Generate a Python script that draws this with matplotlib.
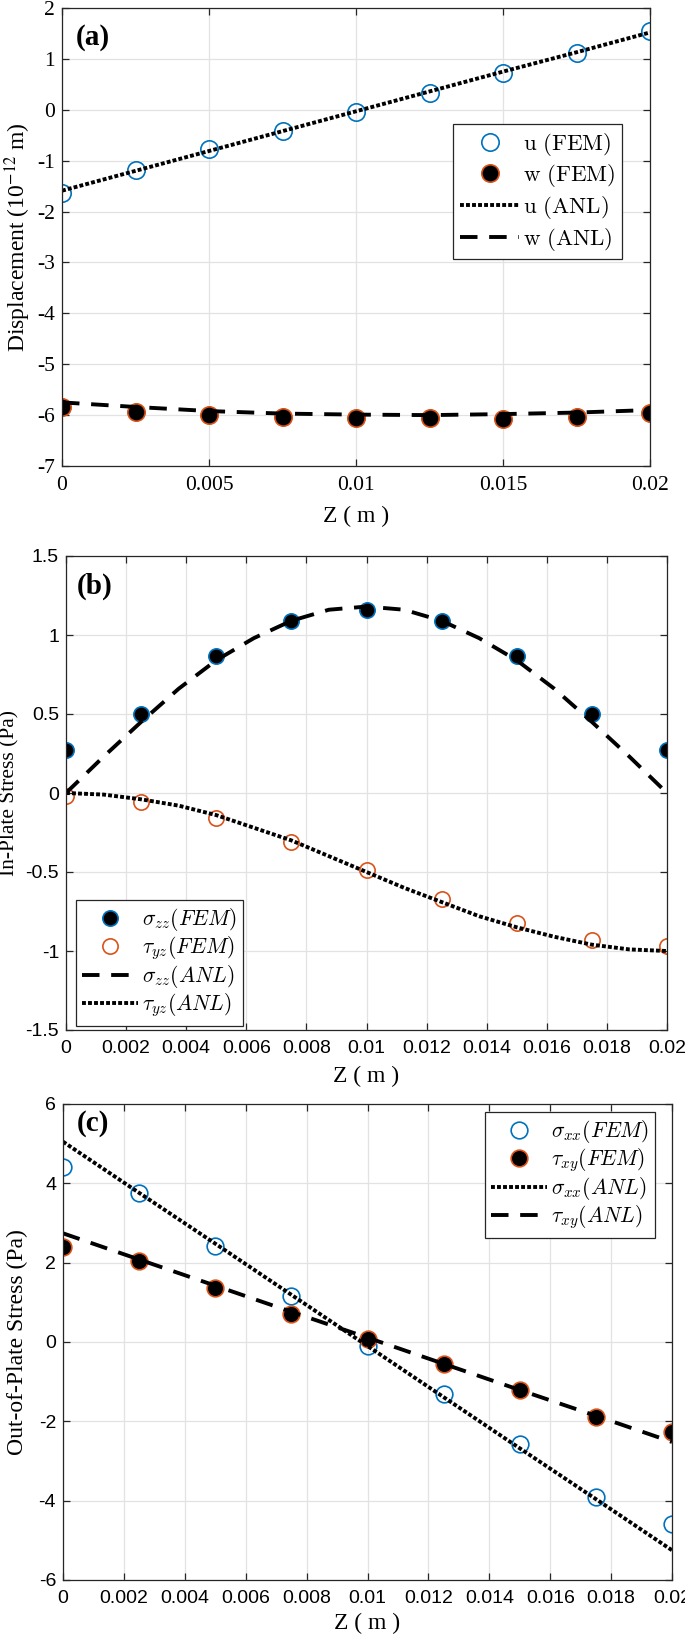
"""Three stacked panels: displacement, in-plate stress and out-of-plate stress
through the plate thickness, FEM markers against analytical curves."""

import matplotlib
import matplotlib.pyplot as plt
from matplotlib.ticker import FuncFormatter, MultipleLocator

matplotlib.use("Agg")

plt.rcParams["axes.unicode_minus"] = False
plt.rcParams["mathtext.fontset"] = "cm"

BLUE = "#0072BD"
ORANGE = "#D95319"
EDGE = "#262626"
GRID = "#e2e2e2"
SERIF = "Liberation Serif"
SANS = "Liberation Sans"

DOTTED = (0, (1, 0.55))
DASHED = (0, (4.5, 3))

# ---- data ------------------------------------------------------------------
z_fem = [0, 0.0025, 0.005, 0.0075, 0.01, 0.0125, 0.015, 0.0175, 0.02]

# (a) displacement, 1e-12 m
u_fem = [-1.63, -1.18, -0.78, -0.41, -0.05, 0.33, 0.72, 1.11, 1.55]
w_fem = [-5.84, -5.93, -6.00, -6.04, -6.06, -6.06, -6.07, -6.03, -5.96]
u_anl = [-1.59, -1.20, -0.81, -0.42, -0.03, 0.36, 0.75, 1.13, 1.52]
w_anl = [-5.75, -5.84, -5.92, -5.97, -5.99, -6.00, -5.98, -5.95, -5.90]

# (b) in-plate stress, Pa
sig_zz_fem = [0.27, 0.50, 0.87, 1.09, 1.16, 1.09, 0.87, 0.50, 0.27]
tau_yz_fem = [-0.02, -0.06, -0.16, -0.31, -0.49, -0.67, -0.82, -0.93, -0.97]
z_anl = [0, 0.00125, 0.0025, 0.00375, 0.005, 0.00625, 0.0075, 0.00875, 0.01,
         0.01125, 0.0125, 0.01375, 0.015, 0.01625, 0.0175, 0.01875, 0.02]
sig_zz_anl = [0.0, 0.23, 0.45, 0.66, 0.84, 0.98, 1.09, 1.16, 1.18,
              1.16, 1.09, 0.98, 0.84, 0.66, 0.45, 0.23, 0.0]
tau_yz_anl = [0.0, -0.01, -0.04, -0.08, -0.14, -0.22, -0.30, -0.40, -0.50,
              -0.60, -0.69, -0.78, -0.85, -0.91, -0.96, -0.99, -1.0]

# (c) out-of-plate stress, Pa
sig_xx_fem = [4.42, 3.75, 2.43, 1.16, -0.11, -1.31, -2.56, -3.90, -4.58]
tau_xy_fem = [2.40, 2.04, 1.36, 0.71, 0.07, -0.55, -1.21, -1.89, -2.27]
sig_xx_anl = [5.05, 3.76, 2.48, 1.19, -0.10, -1.39, -2.68, -3.96, -5.25]
tau_xy_anl = [2.74, 2.08, 1.42, 0.76, 0.11, -0.55, -1.21, -1.86, -2.52]


def fmt_g(value, _pos):
    return f"{value:g}"


def style_axes(ax, tick_family, tick_size, xstep, ystep, ylim):
    ax.set_xlim(0, 0.02)
    ax.set_ylim(*ylim)
    ax.xaxis.set_major_locator(MultipleLocator(xstep))
    ax.yaxis.set_major_locator(MultipleLocator(ystep))
    ax.xaxis.set_major_formatter(FuncFormatter(fmt_g))
    ax.yaxis.set_major_formatter(FuncFormatter(fmt_g))
    ax.grid(True, color=GRID, lw=0.9)
    ax.set_axisbelow(True)
    ax.tick_params(direction="in", top=True, right=True, length=5, width=0.9,
                   color=EDGE, labelcolor="black", labelsize=tick_size,
                   labelfontfamily=tick_family)
    ax.tick_params(axis="x", pad=7)
    ax.tick_params(axis="y", pad=5)
    for spine in ax.spines.values():
        spine.set_color(EDGE)
        spine.set_linewidth(0.9)


def add_legend(fig, ax, anchor, fontsize, spacing):
    leg = ax.legend(loc="upper left", bbox_to_anchor=anchor,
                    bbox_transform=fig.transFigure, borderaxespad=0,
                    fontsize=fontsize, labelspacing=spacing, handlelength=2.6,
                    handletextpad=0.15, borderpad=0.3, fancybox=False,
                    framealpha=1, edgecolor=EDGE)
    leg.get_frame().set_linewidth(0.9)
    return leg


W, H = 685, 1642
fig = plt.figure(figsize=(W / 100, H / 100), dpi=100)


def axes_box(left, right, top, bottom):
    return [left / W, 1 - bottom / H, (right - left) / W, (bottom - top) / H]


ax_a = fig.add_axes(axes_box(62, 650, 8, 466))
ax_b = fig.add_axes(axes_box(66, 667, 556, 1030))
ax_c = fig.add_axes(axes_box(63, 672, 1104, 1580))

# ---- (a) ---------------------------------------------------------------------
ax_a.plot(z_fem, u_fem, "o", ms=12.5, mfc="none", mec=BLUE, mew=1.2,
          label=r"$\mathrm{u\ (FEM)}$")
ax_a.plot(z_fem, w_fem, "o", ms=12.5, mfc="black", mec=ORANGE, mew=1.2,
          label=r"$\mathrm{w\ (FEM)}$")
ax_a.plot(z_fem, u_anl, color="black", lw=2.8, ls=DOTTED,
          label=r"$\mathrm{u\ (ANL)}$")
ax_a.plot(z_fem, w_anl, color="black", lw=2.8, ls=DASHED,
          label=r"$\mathrm{w\ (ANL)}$")
style_axes(ax_a, SERIF, 15.5, 0.005, 1, (-7, 2))
ax_a.set_xlabel("Z ( m )", fontfamily=SERIF, fontsize=17, va="center")
ax_a.xaxis.set_label_coords(0.5, -0.111)
ax_a.set_ylabel(r"Displacement (10$^{-12}$ m)", fontfamily=SERIF, fontsize=17,
                math_fontfamily="stix", va="center")
ax_a.yaxis.set_label_coords(-0.075, 0.5)
ax_a.text(0.024, 0.935, "(a)", transform=ax_a.transAxes, fontfamily=SERIF,
          fontsize=21, fontweight="bold", va="center", ha="left")
add_legend(fig, ax_a, (453 / W, 1 - 124 / H), 16.5, 0.2)

# ---- (b) ---------------------------------------------------------------------
ax_b.plot(z_fem, sig_zz_fem, "o", ms=11, mfc="black", mec=BLUE, mew=1.2,
          label=r"$\sigma_{zz}(FEM)$")
ax_b.plot(z_fem, tau_yz_fem, "o", ms=11, mfc="none", mec=ORANGE, mew=1.2,
          label=r"$\tau_{yz}(FEM)$")
ax_b.plot(z_anl, sig_zz_anl, color="black", lw=2.8, ls=DASHED,
          label=r"$\sigma_{zz}(ANL)$")
ax_b.plot(z_anl, tau_yz_anl, color="black", lw=2.8, ls=DOTTED,
          label=r"$\tau_{yz}(ANL)$")
style_axes(ax_b, SANS, 14, 0.002, 0.5, (-1.5, 1.5))
ax_b.set_xlabel("Z ( m )", fontfamily=SERIF, fontsize=17, va="center")
ax_b.xaxis.set_label_coords(0.5, -0.099)
ax_b.set_ylabel("In-Plate Stress (Pa)", fontfamily=SERIF, fontsize=15.5,
                va="center")
ax_b.yaxis.set_label_coords(-0.093, 0.5)
ax_b.text(0.018, 0.936, "(b)", transform=ax_b.transAxes, fontfamily=SERIF,
          fontsize=21, fontweight="bold", va="center", ha="left")
add_legend(fig, ax_b, (76 / W, 1 - 900 / H), 15.5, 0.05)

# ---- (c) ---------------------------------------------------------------------
ax_c.plot(z_fem, sig_xx_fem, "o", ms=12, mfc="none", mec=BLUE, mew=1.2,
          label=r"$\sigma_{xx}(FEM)$")
ax_c.plot(z_fem, tau_xy_fem, "o", ms=12, mfc="black", mec=ORANGE, mew=1.2,
          label=r"$\tau_{xy}(FEM)$")
ax_c.plot(z_fem, sig_xx_anl, color="black", lw=2.8, ls=DOTTED,
          label=r"$\sigma_{xx}(ANL)$")
ax_c.plot(z_fem, tau_xy_anl, color="black", lw=2.8, ls=DASHED,
          label=r"$\tau_{xy}(ANL)$")
style_axes(ax_c, SANS, 14, 0.002, 2, (-6, 6))
ax_c.set_xlabel("Z ( m )", fontfamily=SERIF, fontsize=17, va="center")
ax_c.xaxis.set_label_coords(0.5, -0.092)
ax_c.set_ylabel("Out-of-Plate Stress (Pa)", fontfamily=SERIF, fontsize=17,
                va="center")
ax_c.yaxis.set_label_coords(-0.075, 0.5)
ax_c.text(0.023, 0.958, "(c)", transform=ax_c.transAxes, fontfamily=SERIF,
          fontsize=21, fontweight="bold", va="center", ha="left")
add_legend(fig, ax_c, (485 / W, 1 - 1112 / H), 15.5, 0.05)

fig.savefig("out.png", dpi=100)
